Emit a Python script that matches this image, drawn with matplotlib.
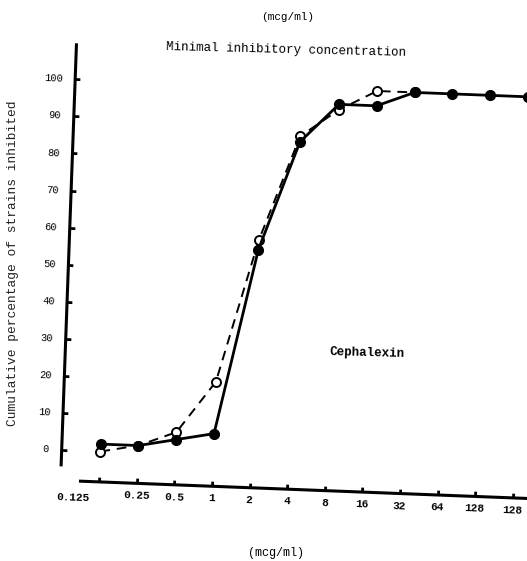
import numpy as np
import matplotlib
matplotlib.use("Agg")
import matplotlib.pyplot as plt
from matplotlib.transforms import Affine2D
from mpl_toolkits.axisartist import HostAxes
from mpl_toolkits.axisartist.grid_helper_curvelinear import GridHelperCurveLinear
from mpl_toolkits.axisartist.grid_finder import FixedLocator, DictFormatter

# MIC steps (mcg/ml); the printed scale repeats 128 at the end
mic_labels = ["0.125", "0.25", "0.5", "1", "2", "4", "8", "16", "32", "64", "128", "128"]
mic_pos = np.arange(len(mic_labels))

# cumulative percentage of strains inhibited
solid_pct = [2, 2, 4, 6, 56, 85.5, 96, 96, 100, 100, 100, 100]
open_pct = [0, 2, 6, 20, 58.5, 87, 94.5, 100, 100]

y_ticks = list(range(0, 101, 10))

W, H = 527, 561
mono = "Liberation Mono"

fig = plt.figure(figsize=(W / 100, H / 100), dpi=100)

# the sheet is printed a bit skewed: (step, %) -> figure pixels
skew = Affine2D().from_values(37.6, -1.455, 0.135, 3.707, 100.4, H - 451.5)

x_fmt = {i: ("" if i == 0 else s) for i, s in enumerate(mic_labels)}
grid_helper = GridHelperCurveLinear(
    skew,
    grid_locator1=FixedLocator(list(mic_pos)),
    grid_locator2=FixedLocator(y_ticks),
    tick_formatter1=DictFormatter(x_fmt),
    tick_formatter2=DictFormatter({v: str(v) for v in y_ticks}),
)

ax = fig.add_axes([0, 0, 1, 1], axes_class=HostAxes, grid_helper=grid_helper)
for side in ["left", "right", "top", "bottom"]:
    ax.axis[side].set_visible(False)

# y axis (constant step) and x axis (constant %)
ax.axis["pct"] = yax = ax.new_floating_axis(0, -1.03)
yax.get_helper().set_extremes(-4, 109.3)
yax.set_axis_direction("left")

ax.axis["mic"] = xax = ax.new_floating_axis(1, -8.2)
xax.get_helper().set_extremes(-0.5, 12.5)
xax.set_axis_direction("bottom")

for a, fs, fw in [(yax, 7.5, "normal"), (xax, 8, "bold")]:
    a.line.set_linewidth(2.2)
    a.major_ticks.set_ticksize(3.5)
    a.major_ticks.set_markeredgewidth(2)
    a.major_ticklabels.set_fontfamily(mono)
    a.major_ticklabels.set_fontsize(fs)
    a.major_ticklabels.set_fontweight(fw)
yax.major_ticklabels.set_pad(9)
xax.major_ticklabels.set_pad(6)

aux = ax.get_aux_axes(skew)
aux.plot(mic_pos[:len(open_pct)], open_pct, color="k", lw=1.4, ls=(0, (5, 3.5)),
         marker="o", ms=6.5, mfc="white", mec="k", mew=1.4, zorder=2)
aux.plot(mic_pos, solid_pct, color="k", lw=2.0, marker="o", ms=7, zorder=3)

aux.text(-0.68, -12.6, mic_labels[0], ha="center", va="center", rotation=-2,
         family=mono, fontsize=8, fontweight="bold")
aux.text(7, 29.3, "Cephalexin", ha="center", va="center", rotation=-1.5,
         family=mono, fontsize=9, fontweight="bold")

ax.set_xlim(0, W)
ax.set_ylim(0, H)

fig.text(288 / W, 1 - 17 / H, "(mcg/ml)", ha="center", va="center",
         family=mono, fontsize=8)
fig.text(286 / W, 1 - 50 / H, "Minimal inhibitory concentration", ha="center",
         va="center", rotation=-1.4, rotation_mode="anchor", family=mono, fontsize=9)
fig.text(13 / W, 1 - 263 / H, "Cumulative percentage of strains inhibited",
         ha="center", va="center", rotation=90, family=mono, fontsize=9.3, color="#222222")
fig.text(276 / W, 1 - 553 / H, "(mcg/ml)", ha="center", va="center",
         family=mono, fontsize=8.5)

fig.savefig("out.png", dpi=100)
